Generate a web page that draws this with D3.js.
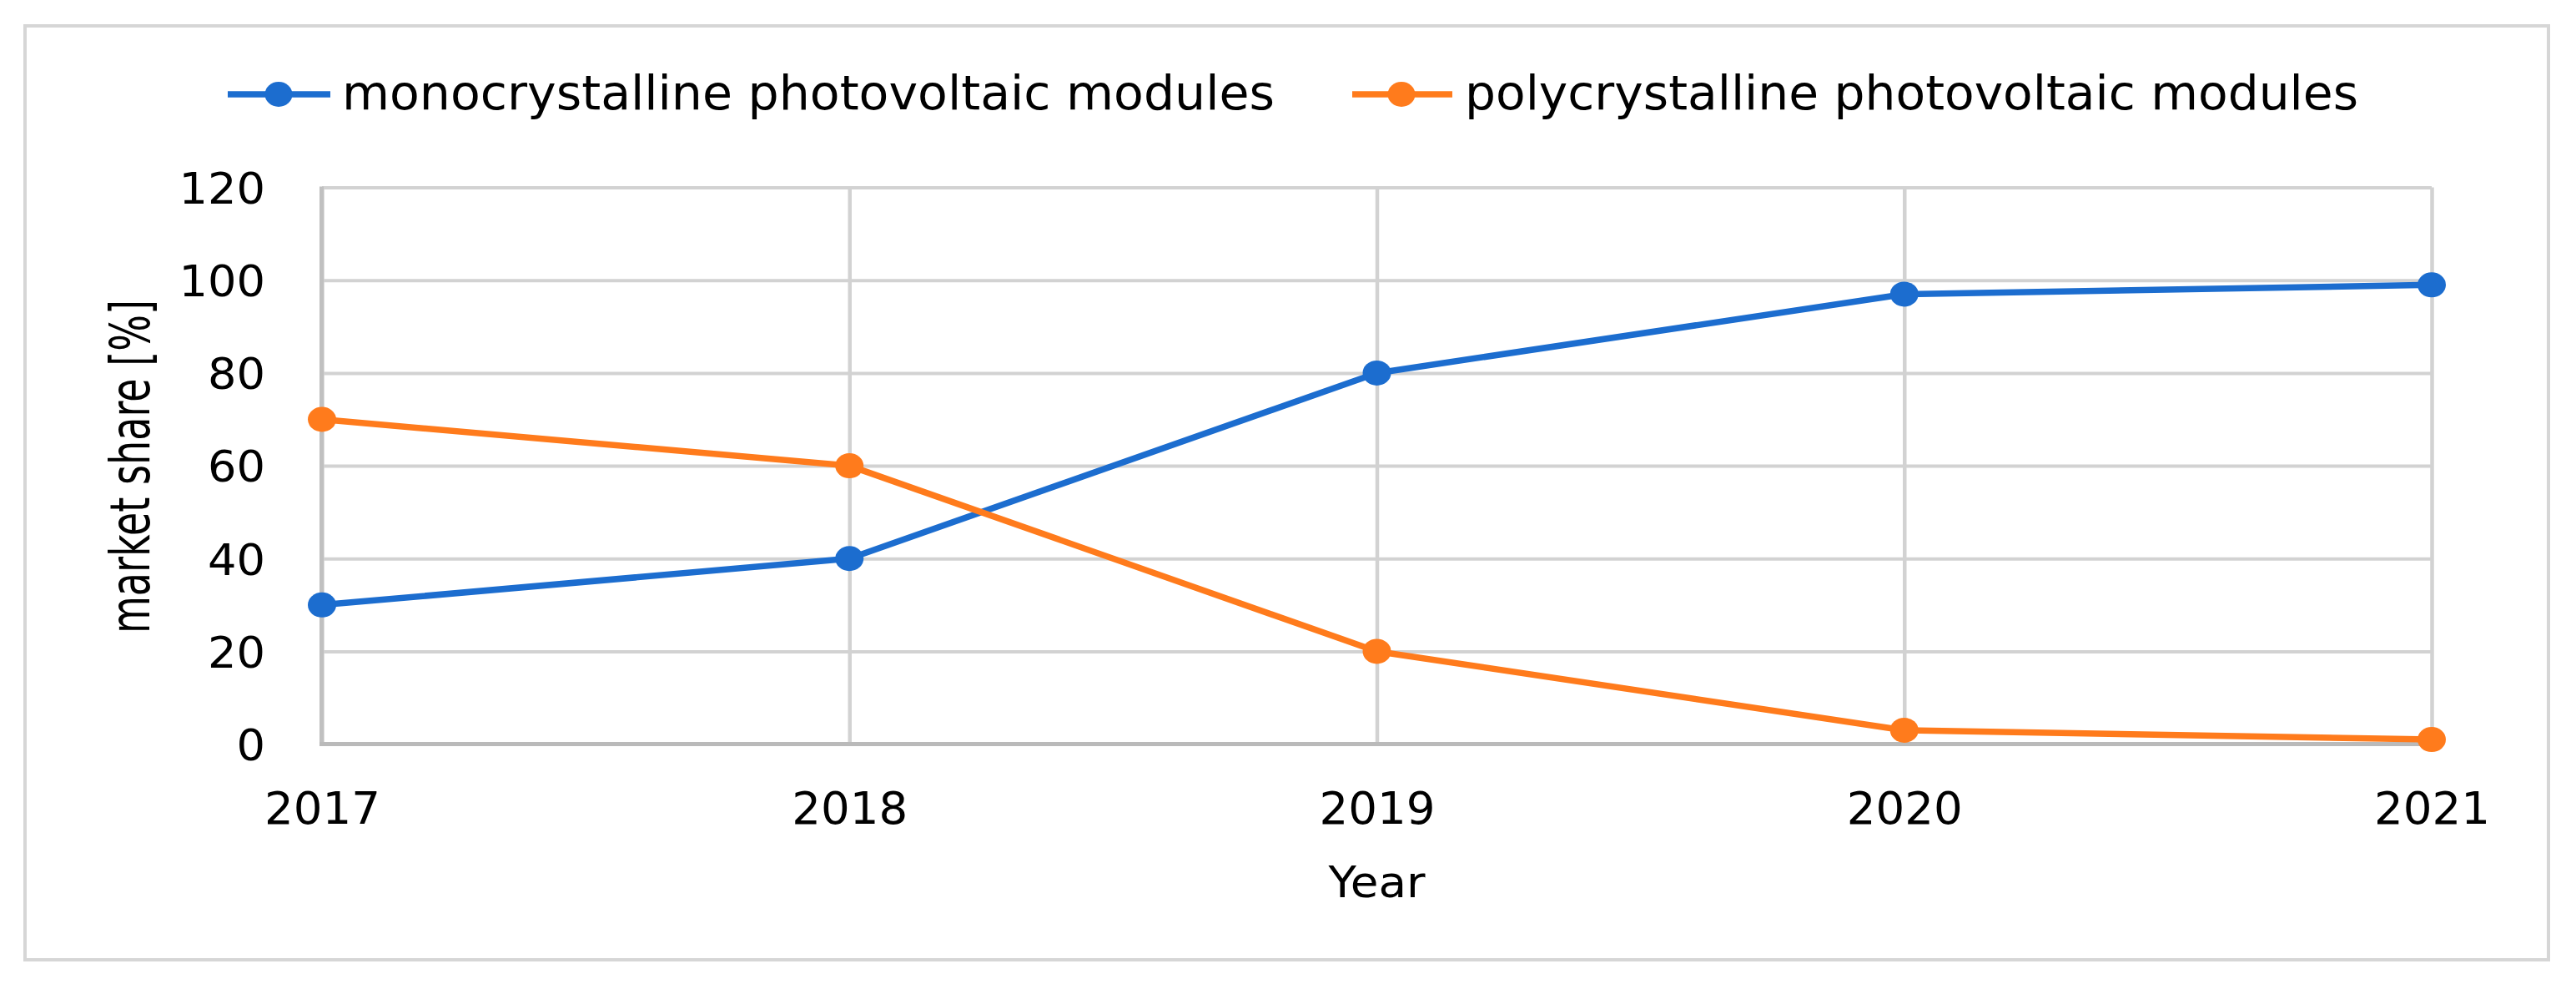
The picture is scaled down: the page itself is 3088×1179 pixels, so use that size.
<!DOCTYPE html>
<html>
<head>
<meta charset="utf-8">
<script src="https://cdn.jsdelivr.net/npm/d3@7"></script>
<style>
  html, body { margin: 0; padding: 0; background: #fff; }
  svg { display: block; }
  text { font-family: "DejaVu Sans", Verdana, sans-serif; fill: #000; }
</style>
</head>
<body>
<svg id="chart" width="3088" height="1179"></svg>
<script>
// ---- data ----
const years = [2017, 2018, 2019, 2020, 2021];
const monoShare = [30, 40, 80, 97, 99];
const polyShare = [70, 60, 20, 3, 1];
const yTicks = [0, 20, 40, 60, 80, 100, 120];
const seriesNames = ["monocrystalline photovoltaic modules", "polycrystalline photovoltaic modules"];
const seriesColors = ["#1c6dcf", "#ff7b1c"];
const xTitle = "Year";
const yTitle = "market share [%]";

// ---- layout ----
const W = 3088, H = 1179;
const plot = { left: 386, right: 2915, top: 224.6, bottom: 891.6 };

const svg = d3.select("#chart");
svg.append("rect").attr("width", W).attr("height", H).attr("fill", "#fff");

// outer frame
svg.append("rect")
  .attr("x", 30).attr("y", 31).attr("width", 3025).attr("height", 1119)
  .attr("fill", "none").attr("stroke", "#d6d6d6").attr("stroke-width", 4);

const x = d3.scalePoint().domain(years).range([plot.left, plot.right]);
const y = d3.scaleLinear().domain([0, 120]).range([plot.bottom, plot.top]);

// horizontal gridlines
const yGrid = svg.append("g").attr("transform", `translate(${plot.left},0)`)
  .call(d3.axisLeft(y).tickValues(yTicks).tickSize(-(plot.right - plot.left)).tickFormat(""));
yGrid.select(".domain").remove();
yGrid.selectAll(".tick line").attr("stroke", "#d2d2d2").attr("stroke-width", 4);

// vertical gridlines
const xGrid = svg.append("g").attr("transform", `translate(0,${plot.bottom})`)
  .call(d3.axisBottom(x).tickSize(-(plot.bottom - plot.top)).tickFormat(""));
xGrid.select(".domain").remove();
xGrid.selectAll(".tick line").attr("stroke", "#d2d2d2").attr("stroke-width", 4.5);

// axis lines
svg.append("line")
  .attr("x1", plot.left - 0.5).attr("x2", plot.left - 0.5)
  .attr("y1", plot.top - 1).attr("y2", plot.bottom + 2.5)
  .attr("stroke", "#c0c0c0").attr("stroke-width", 5);
svg.append("line")
  .attr("x1", plot.left - 3).attr("x2", plot.right + 2)
  .attr("y1", plot.bottom).attr("y2", plot.bottom)
  .attr("stroke", "#bababa").attr("stroke-width", 5);

// y tick labels
const yAxis = svg.append("g").attr("transform", `translate(${plot.left},0)`)
  .call(d3.axisLeft(y).tickValues(yTicks).tickSize(0).tickPadding(68));
yAxis.select(".domain").remove();
yAxis.selectAll("text")
  .attr("font-size", 51).attr("fill", "#000")
  .attr("font-family", "DejaVu Sans")
  .attr("dy", "0.37em")
  .attr("textLength", d => String(d).length * 34.5)
  .attr("lengthAdjust", "spacingAndGlyphs");

// x tick labels
const xAxis = svg.append("g").attr("transform", `translate(0,${plot.bottom})`)
  .call(d3.axisBottom(x).tickSize(0));
xAxis.select(".domain").remove();
xAxis.selectAll("text")
  .attr("font-size", 54).attr("fill", "#000")
  .attr("font-family", "DejaVu Sans")
  .attr("y", 95.5).attr("dy", 0)
  .attr("textLength", 139)
  .attr("lengthAdjust", "spacingAndGlyphs");

// axis titles
svg.append("text")
  .attr("x", (plot.left + plot.right) / 2).attr("y", 1075)
  .attr("text-anchor", "middle").attr("font-size", 52)
  .attr("textLength", 116).attr("lengthAdjust", "spacingAndGlyphs")
  .text(xTitle);

svg.append("text")
  .attr("transform", `translate(179,559) rotate(-90)`)
  .attr("text-anchor", "middle").attr("font-size", 66)
  .attr("textLength", 400).attr("lengthAdjust", "spacingAndGlyphs")
  .text(yTitle);

// series
const series = [monoShare, polyShare];
const line = d3.line().x((d, i) => x(years[i])).y(d => y(d));

series.forEach((vals, si) => {
  svg.append("path")
    .datum(vals)
    .attr("d", line)
    .attr("fill", "none")
    .attr("stroke", seriesColors[si])
    .attr("stroke-width", 7.5)
    .attr("stroke-linejoin", "round");
  svg.append("g").selectAll("ellipse")
    .data(vals)
    .join("ellipse")
    .attr("cx", (d, i) => x(years[i]))
    .attr("cy", d => y(d))
    .attr("rx", 17).attr("ry", 15)
    .attr("fill", seriesColors[si]);
});

// legend
const legendItems = [
  { lineX1: 273, lineX2: 396, markX: 334, textX: 410, textW: 1118 },
  { lineX1: 1621, lineX2: 1741, markX: 1680, textX: 1756, textW: 1071 }
];
const legY = 113;
legendItems.forEach((it, i) => {
  const g = svg.append("g");
  g.append("line")
    .attr("x1", it.lineX1).attr("x2", it.lineX2)
    .attr("y1", legY).attr("y2", legY)
    .attr("stroke", seriesColors[i]).attr("stroke-width", 7.5);
  g.append("ellipse")
    .attr("cx", it.markX).attr("cy", legY)
    .attr("rx", 16.5).attr("ry", 15)
    .attr("fill", seriesColors[i]);
  g.append("text")
    .attr("x", it.textX).attr("y", 131)
    .attr("font-size", 57)
    .attr("textLength", it.textW).attr("lengthAdjust", "spacingAndGlyphs")
    .text(seriesNames[i]);
});
</script>
</body>
</html>
